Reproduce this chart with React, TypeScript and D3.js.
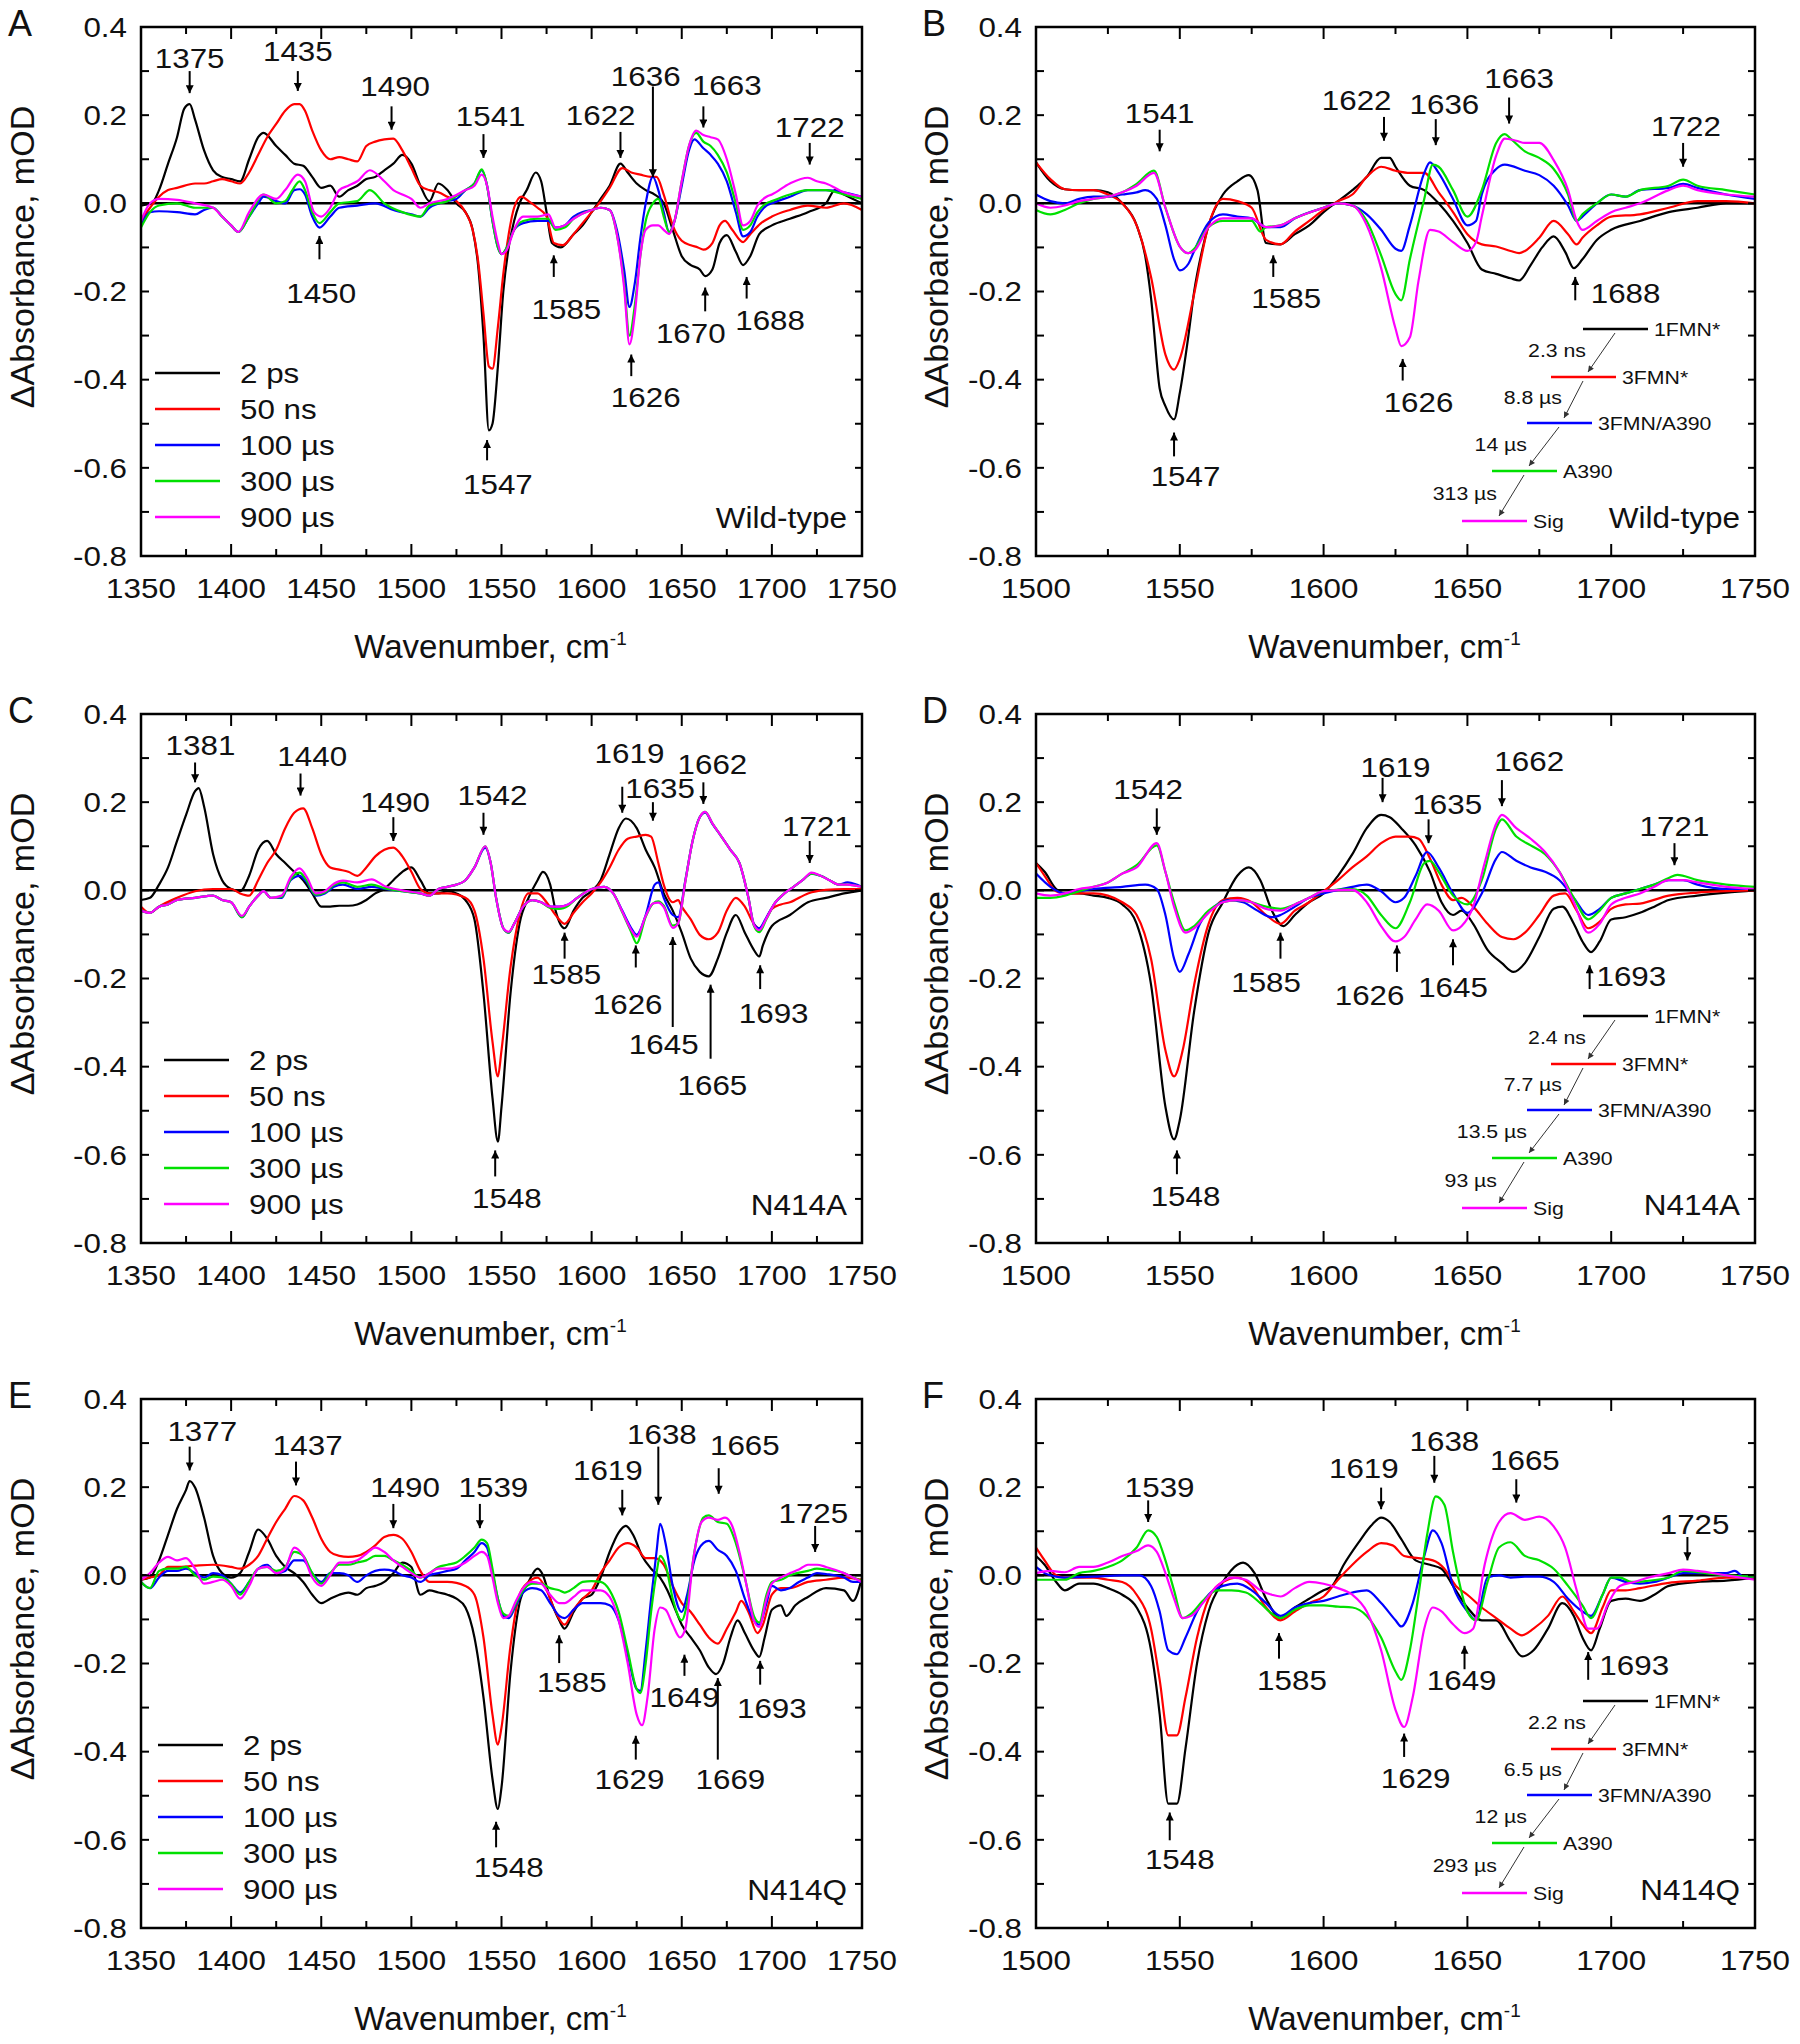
import * as d3 from "d3";

type Pt = [number, number];
// [label, arrow wavenumber, arrow base, arrow tip, label wavenumber, label value]
type Note = [string, number, number, number, number, number];

const COLORS = ["#000000", "#ff0000", "#0000ff", "#00e000", "#ff00ff"];
const TIME_LABELS = ["2 ps", "50 ns", "100 µs", "300 µs", "900 µs"];
const SPECIES = ["1FMN*", "3FMN*", "3FMN/A390", "A390", "Sig"];
const RATES_WT = ["2.3 ns", "8.8 µs", "14 µs", "313 µs"];
const RATES_N414A = ["2.4 ns", "7.7 µs", "13.5 µs", "93 µs"];
const RATES_N414Q = ["2.2 ns", "6.5 µs", "12 µs", "293 µs"];

const Y_TICKS = [0.4, 0.3, 0.2, 0.1, 0, -0.1, -0.2, -0.3, -0.4, -0.5, -0.6, -0.7, -0.8];
const Y_LABELS = [0.4, 0.2, 0, -0.2, -0.4, -0.6, -0.8];
const X_TICKS_WIDE = [1350, 1375, 1400, 1425, 1450, 1475, 1500, 1525, 1550, 1575, 1600, 1625, 1650, 1675, 1700, 1725, 1750];
const X_TICKS_NARROW = [1500, 1525, 1550, 1575, 1600, 1625, 1650, 1675, 1700, 1725, 1750];

// ---------- panel A : wild-type, time slices ----------
const aBlack: Pt[] = [[1350,-0.005],[1356,0.0],[1360,0.03],[1365,0.09],[1370,0.15],[1374,0.215],[1377,0.225],[1380,0.19],[1385,0.12],[1390,0.075],[1395,0.06],[1400,0.055],[1405,0.05],[1410,0.1],[1415,0.15],[1418,0.16],[1425,0.13],[1430,0.11],[1435,0.09],[1440,0.085],[1445,0.06],[1450,0.035],[1455,0.04],[1460,0.015],[1465,0.03],[1470,0.04],[1475,0.055],[1480,0.06],[1485,0.075],[1490,0.09],[1495,0.11],[1500,0.09],[1505,0.04],[1510,0.005],[1515,0.045],[1520,0.03],[1525,0.0],[1530,-0.02],[1534,-0.06],[1537,-0.14],[1540,-0.3],[1543,-0.515],[1545,-0.5],[1548,-0.37],[1551,-0.2],[1554,-0.1],[1557,-0.04],[1560,0.0],[1564,0.03],[1569,0.07],[1572,0.05],[1575,-0.02],[1578,-0.09],[1583,-0.1],[1590,-0.07],[1595,-0.05],[1600,-0.02],[1605,0.01],[1610,0.04],[1616,0.09],[1620,0.07],[1625,0.045],[1630,0.03],[1635,0.02],[1640,0.0],[1645,-0.06],[1650,-0.12],[1655,-0.14],[1660,-0.15],[1663,-0.165],[1667,-0.15],[1671,-0.09],[1675,-0.072],[1680,-0.11],[1684,-0.14],[1688,-0.12],[1693,-0.07],[1700,-0.05],[1710,-0.035],[1720,-0.02],[1730,0.0],[1735,0.03],[1740,0.02],[1745,0.01],[1750,0.0]];
const aRed: Pt[] = [[1350,-0.04],[1355,-0.01],[1360,0.015],[1365,0.03],[1370,0.035],[1380,0.045],[1385,0.045],[1390,0.05],[1395,0.055],[1400,0.05],[1405,0.045],[1410,0.07],[1415,0.11],[1420,0.15],[1425,0.18],[1430,0.21],[1435,0.225],[1438,0.225],[1441,0.21],[1445,0.165],[1450,0.12],[1455,0.1],[1460,0.105],[1465,0.1],[1470,0.095],[1475,0.13],[1480,0.14],[1485,0.145],[1490,0.147],[1495,0.12],[1500,0.08],[1505,0.04],[1510,0.03],[1515,0.025],[1520,0.015],[1525,0.005],[1530,-0.02],[1534,-0.06],[1537,-0.13],[1540,-0.25],[1543,-0.37],[1545,-0.375],[1548,-0.28],[1551,-0.16],[1554,-0.07],[1557,-0.01],[1561,0.015],[1565,0.005],[1570,-0.01],[1575,-0.03],[1579,-0.09],[1584,-0.095],[1590,-0.07],[1595,-0.045],[1600,-0.02],[1605,0.005],[1610,0.035],[1617,0.08],[1622,0.07],[1627,0.065],[1633,0.06],[1636,0.06],[1640,0.02],[1645,-0.05],[1650,-0.085],[1655,-0.095],[1659,-0.1],[1662,-0.105],[1667,-0.09],[1671,-0.05],[1674,-0.04],[1678,-0.06],[1684,-0.088],[1688,-0.07],[1694,-0.045],[1700,-0.03],[1710,-0.015],[1720,-0.005],[1730,-0.01],[1740,0.0],[1750,-0.015]];
const aBlue: Pt[] = [[1350,-0.05],[1355,-0.02],[1360,-0.018],[1370,-0.02],[1380,-0.025],[1385,-0.015],[1390,-0.01],[1395,-0.03],[1400,-0.05],[1404,-0.065],[1410,-0.03],[1415,0.0],[1418,0.015],[1425,0.005],[1430,0.0],[1435,0.03],[1438,0.032],[1441,0.02],[1445,-0.03],[1449,-0.055],[1455,-0.03],[1460,-0.01],[1470,-0.005],[1480,0.0],[1490,-0.015],[1500,-0.025],[1505,-0.03],[1510,-0.01],[1520,0.005],[1525,0.01],[1530,0.03],[1535,0.045],[1539,0.075],[1542,0.04],[1545,-0.04],[1548,-0.1],[1550,-0.115],[1553,-0.1],[1557,-0.06],[1562,-0.045],[1570,-0.04],[1576,-0.04],[1580,-0.055],[1585,-0.05],[1590,-0.03],[1595,-0.02],[1600,-0.015],[1605,-0.01],[1610,-0.015],[1614,-0.06],[1618,-0.15],[1621,-0.235],[1624,-0.18],[1627,-0.08],[1630,0.0],[1634,0.06],[1637,0.03],[1640,-0.02],[1643,-0.065],[1646,-0.04],[1650,0.04],[1654,0.12],[1657,0.145],[1662,0.125],[1666,0.11],[1670,0.09],[1675,0.05],[1680,-0.02],[1684,-0.075],[1688,-0.065],[1692,-0.03],[1697,-0.005],[1700,0.0],[1710,0.015],[1720,0.03],[1730,0.03],[1740,0.025],[1750,0.015]];
const aGreen: Pt[] = [[1350,-0.055],[1355,-0.02],[1360,-0.005],[1370,0.0],[1380,-0.01],[1390,-0.01],[1395,-0.03],[1400,-0.05],[1404,-0.065],[1410,-0.03],[1418,0.02],[1425,0.0],[1430,0.005],[1434,0.03],[1438,0.05],[1441,0.03],[1445,-0.02],[1449,-0.045],[1455,-0.02],[1460,0.0],[1470,0.005],[1477,0.03],[1485,0.0],[1495,-0.02],[1505,-0.03],[1510,-0.005],[1520,0.005],[1530,0.03],[1535,0.045],[1539,0.077],[1542,0.04],[1545,-0.04],[1548,-0.1],[1550,-0.115],[1553,-0.1],[1557,-0.06],[1562,-0.04],[1570,-0.035],[1576,-0.035],[1580,-0.06],[1585,-0.055],[1590,-0.035],[1600,-0.015],[1605,-0.01],[1610,-0.015],[1614,-0.07],[1618,-0.18],[1621,-0.3],[1624,-0.23],[1627,-0.12],[1630,-0.04],[1634,0.0],[1637,0.01],[1640,-0.03],[1643,-0.065],[1646,-0.04],[1650,0.05],[1654,0.13],[1658,0.16],[1662,0.14],[1666,0.13],[1670,0.11],[1675,0.07],[1680,0.0],[1684,-0.06],[1688,-0.05],[1692,-0.02],[1697,0.0],[1700,0.005],[1710,0.02],[1720,0.03],[1730,0.03],[1740,0.02],[1750,0.01]];
const aMagenta: Pt[] = [[1350,-0.04],[1355,0.0],[1360,0.01],[1370,0.008],[1380,0.0],[1390,-0.01],[1395,-0.03],[1400,-0.05],[1404,-0.065],[1410,-0.02],[1418,0.02],[1425,0.01],[1430,0.03],[1437,0.065],[1441,0.05],[1446,-0.02],[1450,-0.03],[1455,-0.01],[1460,0.03],[1465,0.04],[1470,0.05],[1477,0.075],[1485,0.05],[1490,0.03],[1495,0.02],[1500,0.01],[1505,-0.01],[1510,0.0],[1520,0.01],[1530,0.03],[1535,0.04],[1539,0.065],[1542,0.04],[1545,-0.03],[1548,-0.09],[1550,-0.115],[1553,-0.105],[1557,-0.06],[1562,-0.03],[1570,-0.03],[1576,-0.025],[1580,-0.055],[1585,-0.05],[1590,-0.035],[1600,-0.015],[1605,-0.01],[1610,-0.015],[1614,-0.07],[1618,-0.19],[1621,-0.32],[1624,-0.25],[1627,-0.12],[1630,-0.06],[1634,-0.05],[1637,-0.05],[1640,-0.06],[1643,-0.07],[1646,-0.04],[1650,0.05],[1654,0.13],[1658,0.165],[1662,0.155],[1666,0.15],[1670,0.145],[1675,0.1],[1680,0.02],[1684,-0.05],[1688,-0.04],[1692,-0.005],[1697,0.015],[1700,0.02],[1710,0.045],[1720,0.058],[1725,0.05],[1730,0.045],[1740,0.025],[1750,0.015]];

// ---------- panel B : wild-type, species spectra ----------
const bBlack: Pt[] = [[1500,0.093],[1505,0.05],[1510,0.032],[1515,0.03],[1520,0.03],[1525,0.025],[1530,0.0],[1535,-0.05],[1538,-0.12],[1540,-0.215],[1543,-0.42],[1545,-0.46],[1548,-0.49],[1550,-0.43],[1553,-0.3],[1555,-0.2],[1558,-0.1],[1560,-0.05],[1565,0.02],[1570,0.05],[1574,0.064],[1577,0.03],[1580,-0.09],[1585,-0.093],[1590,-0.07],[1595,-0.05],[1600,-0.02],[1605,0.005],[1610,0.03],[1615,0.06],[1620,0.103],[1623,0.103],[1625,0.083],[1630,0.04],[1635,0.03],[1640,0.0],[1645,-0.04],[1650,-0.09],[1655,-0.15],[1660,-0.16],[1665,-0.17],[1668,-0.175],[1672,-0.14],[1676,-0.1],[1680,-0.075],[1684,-0.11],[1687,-0.147],[1690,-0.127],[1695,-0.083],[1700,-0.06],[1710,-0.04],[1720,-0.02],[1730,-0.01],[1740,0.0],[1750,0.0]];
const bRed: Pt[] = [[1500,0.093],[1505,0.055],[1510,0.032],[1515,0.03],[1520,0.03],[1525,0.02],[1530,0.0],[1535,-0.05],[1540,-0.167],[1545,-0.343],[1548,-0.377],[1550,-0.353],[1555,-0.205],[1560,-0.05],[1565,0.01],[1570,0.005],[1575,-0.01],[1580,-0.083],[1585,-0.093],[1590,-0.064],[1595,-0.04],[1600,-0.015],[1605,0.005],[1610,0.02],[1615,0.06],[1620,0.083],[1625,0.074],[1630,0.069],[1635,0.069],[1640,0.025],[1645,-0.02],[1650,-0.07],[1655,-0.093],[1660,-0.098],[1665,-0.108],[1668,-0.113],[1670,-0.108],[1675,-0.078],[1680,-0.04],[1685,-0.07],[1688,-0.093],[1690,-0.078],[1695,-0.05],[1700,-0.03],[1710,-0.025],[1720,-0.01],[1730,0.005],[1740,0.005],[1750,0.0]];
const bBlue: Pt[] = [[1500,0.02],[1505,0.005],[1510,0.0],[1515,0.01],[1520,0.015],[1525,0.015],[1530,0.02],[1535,0.025],[1538,0.03],[1542,0.01],[1545,-0.05],[1548,-0.127],[1550,-0.152],[1553,-0.137],[1555,-0.108],[1560,-0.044],[1565,-0.025],[1570,-0.03],[1575,-0.034],[1580,-0.054],[1585,-0.054],[1590,-0.034],[1600,-0.01],[1605,0.0],[1610,-0.005],[1615,-0.025],[1620,-0.06],[1625,-0.103],[1627,-0.108],[1630,-0.05],[1635,0.069],[1637,0.093],[1640,0.069],[1645,0.01],[1650,-0.05],[1653,-0.04],[1655,0.02],[1660,0.078],[1663,0.088],[1670,0.074],[1675,0.064],[1680,0.04],[1685,-0.005],[1688,-0.04],[1690,-0.03],[1695,0.0],[1700,0.02],[1705,0.015],[1710,0.03],[1720,0.035],[1725,0.044],[1730,0.035],[1740,0.02],[1750,0.01]];
const bGreen: Pt[] = [[1500,-0.015],[1505,-0.025],[1510,-0.015],[1515,0.0],[1520,0.01],[1525,0.015],[1530,0.025],[1535,0.044],[1541,0.074],[1545,-0.01],[1550,-0.098],[1553,-0.113],[1555,-0.103],[1560,-0.054],[1565,-0.04],[1570,-0.04],[1575,-0.04],[1578,-0.064],[1580,-0.054],[1585,-0.05],[1590,-0.034],[1600,-0.01],[1605,0.0],[1610,-0.005],[1615,-0.04],[1620,-0.118],[1625,-0.206],[1627,-0.22],[1630,-0.127],[1635,0.01],[1638,0.088],[1640,0.083],[1645,0.03],[1650,-0.03],[1655,0.03],[1660,0.137],[1663,0.157],[1665,0.147],[1670,0.118],[1675,0.103],[1680,0.078],[1685,0.02],[1688,-0.04],[1690,-0.025],[1695,0.0],[1700,0.02],[1705,0.015],[1710,0.03],[1720,0.04],[1725,0.054],[1730,0.04],[1740,0.03],[1750,0.02]];
const bMagenta: Pt[] = [[1500,0.0],[1505,-0.01],[1510,-0.005],[1515,0.005],[1520,0.01],[1525,0.015],[1530,0.025],[1535,0.04],[1541,0.069],[1545,-0.01],[1550,-0.098],[1553,-0.113],[1555,-0.108],[1560,-0.054],[1565,-0.034],[1570,-0.034],[1575,-0.034],[1580,-0.054],[1585,-0.05],[1590,-0.034],[1600,-0.01],[1605,0.0],[1610,-0.005],[1615,-0.05],[1620,-0.147],[1625,-0.284],[1627,-0.324],[1630,-0.304],[1633,-0.176],[1637,-0.06],[1640,-0.064],[1645,-0.088],[1650,-0.108],[1653,-0.088],[1655,-0.03],[1660,0.108],[1663,0.147],[1667,0.142],[1670,0.137],[1675,0.137],[1680,0.098],[1685,0.03],[1688,-0.04],[1690,-0.06],[1695,-0.04],[1700,-0.02],[1705,-0.01],[1710,0.0],[1720,0.03],[1725,0.04],[1730,0.03],[1740,0.02],[1750,0.015]];

// ---------- panel C : N414A, time slices ----------
const cBlack: Pt[] = [[1350,-0.022],[1355,-0.017],[1360,0.013],[1365,0.052],[1370,0.112],[1375,0.171],[1380,0.225],[1382,0.232],[1385,0.19],[1390,0.082],[1395,0.023],[1400,0.003],[1405,-0.002],[1410,0.033],[1415,0.092],[1420,0.112],[1425,0.082],[1430,0.062],[1435,0.042],[1440,0.023],[1445,-0.007],[1450,-0.037],[1455,-0.037],[1460,-0.035],[1465,-0.035],[1470,-0.032],[1475,-0.022],[1480,-0.007],[1485,0.003],[1490,0.023],[1495,0.042],[1500,0.052],[1505,0.023],[1510,-0.007],[1515,-0.007],[1520,-0.002],[1525,-0.007],[1530,-0.022],[1535,-0.066],[1540,-0.234],[1545,-0.471],[1548,-0.57],[1550,-0.491],[1555,-0.234],[1560,-0.076],[1565,-0.017],[1570,0.023],[1573,0.042],[1577,0.013],[1580,-0.046],[1585,-0.086],[1590,-0.046],[1595,-0.017],[1600,-0.002],[1605,0.023],[1610,0.082],[1615,0.141],[1619,0.163],[1625,0.141],[1630,0.092],[1635,0.052],[1640,-0.007],[1645,-0.046],[1650,-0.096],[1655,-0.155],[1660,-0.185],[1665,-0.195],[1670,-0.155],[1675,-0.096],[1680,-0.056],[1685,-0.096],[1690,-0.135],[1693,-0.15],[1695,-0.125],[1700,-0.081],[1710,-0.056],[1720,-0.027],[1730,-0.017],[1740,-0.007],[1750,0.0]];
const cRed: Pt[] = [[1350,-0.037],[1355,-0.051],[1360,-0.037],[1370,-0.017],[1380,-0.002],[1390,0.003],[1400,0.003],[1405,-0.007],[1410,-0.012],[1415,0.023],[1420,0.062],[1425,0.092],[1430,0.141],[1435,0.176],[1440,0.186],[1445,0.141],[1450,0.082],[1455,0.052],[1460,0.047],[1465,0.042],[1470,0.033],[1475,0.052],[1480,0.077],[1485,0.092],[1490,0.097],[1495,0.077],[1500,0.042],[1505,0.003],[1510,-0.007],[1520,-0.007],[1530,-0.017],[1535,-0.046],[1540,-0.155],[1545,-0.343],[1548,-0.422],[1550,-0.363],[1555,-0.175],[1560,-0.056],[1565,-0.007],[1570,-0.007],[1575,-0.027],[1580,-0.056],[1585,-0.076],[1590,-0.051],[1595,-0.027],[1600,-0.007],[1605,0.018],[1610,0.052],[1615,0.092],[1620,0.117],[1625,0.122],[1630,0.126],[1633,0.122],[1637,0.062],[1640,0.013],[1645,-0.027],[1648,-0.022],[1650,-0.037],[1655,-0.066],[1660,-0.101],[1665,-0.111],[1670,-0.096],[1675,-0.046],[1680,-0.017],[1685,-0.037],[1690,-0.076],[1693,-0.086],[1700,-0.042],[1705,-0.032],[1710,-0.027],[1720,-0.007],[1730,0.001],[1740,0.003],[1750,0.003]];
const cBlue: Pt[] = [[1350,-0.046],[1355,-0.051],[1360,-0.037],[1365,-0.032],[1370,-0.022],[1380,-0.017],[1390,-0.012],[1395,-0.022],[1400,-0.027],[1406,-0.061],[1410,-0.037],[1415,-0.012],[1418,-0.002],[1422,-0.017],[1428,-0.017],[1433,0.023],[1438,0.033],[1442,0.018],[1447,-0.012],[1452,-0.007],[1457,0.008],[1462,0.013],[1470,0.003],[1478,0.008],[1485,0.003],[1495,-0.002],[1505,-0.007],[1510,-0.012],[1515,0.003],[1520,0.008],[1525,0.013],[1530,0.023],[1535,0.052],[1541,0.097],[1544,0.062],[1547,-0.017],[1551,-0.086],[1554,-0.096],[1557,-0.076],[1562,-0.037],[1567,-0.022],[1572,-0.027],[1577,-0.037],[1582,-0.037],[1587,-0.032],[1592,-0.017],[1600,0.003],[1607,0.008],[1612,-0.007],[1617,-0.046],[1622,-0.086],[1625,-0.101],[1630,-0.056],[1635,0.013],[1637,0.018],[1640,-0.017],[1645,-0.056],[1648,-0.061],[1652,0.023],[1656,0.112],[1660,0.166],[1663,0.176],[1667,0.151],[1672,0.122],[1677,0.092],[1682,0.062],[1687,-0.017],[1690,-0.076],[1693,-0.086],[1697,-0.061],[1702,-0.027],[1707,-0.007],[1712,0.008],[1717,0.023],[1722,0.038],[1727,0.033],[1732,0.023],[1737,0.013],[1742,0.018],[1747,0.013],[1750,0.008]];
const cGreen: Pt[] = [[1350,-0.046],[1355,-0.051],[1360,-0.037],[1365,-0.032],[1370,-0.022],[1380,-0.017],[1390,-0.012],[1395,-0.022],[1400,-0.027],[1406,-0.061],[1410,-0.037],[1415,-0.012],[1418,-0.002],[1422,-0.017],[1428,-0.015],[1433,0.025],[1438,0.04],[1442,0.022],[1447,-0.01],[1452,-0.005],[1457,0.012],[1462,0.018],[1470,0.008],[1478,0.013],[1485,0.005],[1495,-0.002],[1505,-0.007],[1510,-0.012],[1515,0.003],[1520,0.008],[1525,0.013],[1530,0.023],[1535,0.052],[1541,0.1],[1544,0.062],[1547,-0.017],[1551,-0.086],[1554,-0.096],[1557,-0.076],[1562,-0.037],[1567,-0.022],[1572,-0.027],[1577,-0.04],[1582,-0.042],[1587,-0.035],[1592,-0.017],[1600,0.003],[1607,0.008],[1612,-0.007],[1617,-0.05],[1622,-0.095],[1625,-0.12],[1630,-0.06],[1634,-0.03],[1637,-0.025],[1640,-0.035],[1645,-0.08],[1648,-0.075],[1652,0.02],[1656,0.112],[1660,0.166],[1663,0.178],[1667,0.152],[1672,0.122],[1677,0.092],[1682,0.062],[1687,-0.017],[1690,-0.08],[1693,-0.095],[1697,-0.065],[1702,-0.027],[1707,-0.007],[1712,0.008],[1717,0.023],[1722,0.038],[1727,0.033],[1732,0.023],[1737,0.013],[1742,0.013],[1747,0.01],[1750,0.008]];
const cMagenta: Pt[] = [[1350,-0.046],[1355,-0.051],[1360,-0.037],[1365,-0.032],[1370,-0.022],[1380,-0.017],[1390,-0.012],[1395,-0.022],[1400,-0.027],[1406,-0.058],[1410,-0.037],[1415,-0.012],[1418,-0.002],[1422,-0.017],[1428,-0.012],[1433,0.03],[1438,0.05],[1442,0.03],[1447,-0.007],[1452,-0.002],[1457,0.015],[1462,0.022],[1470,0.018],[1478,0.025],[1485,0.01],[1495,0.0],[1505,-0.007],[1510,-0.012],[1515,0.003],[1520,0.008],[1525,0.013],[1530,0.023],[1535,0.052],[1541,0.1],[1544,0.062],[1547,-0.017],[1551,-0.086],[1554,-0.094],[1557,-0.076],[1562,-0.037],[1567,-0.022],[1572,-0.027],[1577,-0.037],[1582,-0.037],[1587,-0.032],[1592,-0.017],[1600,0.003],[1607,0.008],[1612,-0.007],[1617,-0.048],[1622,-0.09],[1625,-0.105],[1630,-0.058],[1634,-0.03],[1637,-0.028],[1640,-0.038],[1645,-0.085],[1648,-0.075],[1652,0.02],[1656,0.112],[1660,0.166],[1663,0.178],[1667,0.152],[1672,0.122],[1677,0.092],[1682,0.062],[1687,-0.017],[1690,-0.078],[1693,-0.09],[1697,-0.063],[1702,-0.027],[1707,-0.007],[1712,0.008],[1717,0.023],[1722,0.04],[1727,0.033],[1732,0.023],[1737,0.013],[1742,0.013],[1747,0.01],[1750,0.008]];

// ---------- panel D : N414A, species spectra ----------
const dBlack: Pt[] = [[1500,0.062],[1503,0.042],[1507,0.003],[1510,-0.007],[1515,-0.007],[1520,-0.012],[1525,-0.017],[1530,-0.032],[1535,-0.076],[1540,-0.214],[1545,-0.491],[1548,-0.565],[1550,-0.521],[1555,-0.274],[1560,-0.096],[1565,-0.027],[1570,0.033],[1574,0.052],[1578,0.023],[1582,-0.046],[1586,-0.081],[1590,-0.056],[1595,-0.027],[1600,-0.007],[1605,0.033],[1610,0.082],[1615,0.141],[1620,0.171],[1623,0.166],[1627,0.141],[1632,0.102],[1637,0.042],[1641,-0.027],[1645,-0.056],[1648,-0.046],[1652,-0.076],[1657,-0.135],[1662,-0.165],[1666,-0.185],[1670,-0.165],[1675,-0.106],[1680,-0.042],[1683,-0.037],[1687,-0.076],[1690,-0.116],[1693,-0.14],[1696,-0.116],[1700,-0.066],[1705,-0.061],[1710,-0.051],[1715,-0.037],[1720,-0.022],[1730,-0.012],[1740,-0.005],[1750,0.0]];
const dRed: Pt[] = [[1500,0.062],[1503,0.033],[1507,-0.002],[1510,-0.007],[1520,-0.007],[1525,-0.012],[1530,-0.027],[1535,-0.056],[1540,-0.155],[1545,-0.363],[1548,-0.422],[1551,-0.363],[1555,-0.214],[1560,-0.076],[1565,-0.022],[1570,-0.017],[1575,-0.027],[1580,-0.056],[1585,-0.076],[1590,-0.046],[1595,-0.027],[1600,-0.002],[1605,0.023],[1610,0.052],[1615,0.077],[1620,0.107],[1625,0.122],[1630,0.122],[1633,0.117],[1637,0.072],[1641,0.013],[1645,-0.022],[1648,-0.017],[1652,-0.037],[1657,-0.076],[1662,-0.106],[1666,-0.111],[1670,-0.096],[1675,-0.056],[1680,-0.012],[1684,-0.007],[1688,-0.046],[1692,-0.086],[1696,-0.071],[1700,-0.042],[1705,-0.032],[1710,-0.03],[1720,-0.012],[1730,-0.005],[1740,-0.002],[1750,0.0]];
const dBlue: Pt[] = [[1500,0.038],[1505,0.008],[1510,-0.007],[1515,-0.002],[1520,0.003],[1530,0.008],[1538,0.013],[1542,0.003],[1545,-0.056],[1548,-0.155],[1550,-0.185],[1553,-0.145],[1557,-0.076],[1562,-0.037],[1567,-0.022],[1572,-0.027],[1577,-0.046],[1582,-0.061],[1585,-0.056],[1590,-0.037],[1595,-0.017],[1600,-0.007],[1605,0.001],[1610,0.008],[1615,0.013],[1620,-0.002],[1625,-0.027],[1628,-0.017],[1632,0.033],[1636,0.087],[1640,0.052],[1645,-0.007],[1650,-0.051],[1655,-0.007],[1660,0.072],[1662,0.087],[1667,0.067],[1672,0.052],[1677,0.042],[1682,0.023],[1687,-0.017],[1692,-0.056],[1696,-0.042],[1700,-0.017],[1705,-0.007],[1710,0.003],[1715,0.013],[1720,0.023],[1725,0.023],[1730,0.013],[1740,0.003],[1750,0.003]];
const dGreen: Pt[] = [[1500,-0.017],[1505,-0.017],[1510,-0.012],[1515,-0.002],[1520,0.008],[1525,0.018],[1530,0.038],[1535,0.057],[1542,0.102],[1545,0.042],[1548,-0.027],[1552,-0.091],[1555,-0.081],[1560,-0.046],[1565,-0.027],[1570,-0.022],[1575,-0.027],[1580,-0.037],[1585,-0.042],[1590,-0.032],[1595,-0.017],[1600,-0.002],[1610,0.003],[1615,-0.012],[1620,-0.056],[1625,-0.086],[1630,-0.027],[1635,0.062],[1637,0.067],[1640,0.042],[1645,-0.012],[1650,-0.032],[1655,0.023],[1660,0.141],[1662,0.161],[1667,0.122],[1672,0.102],[1677,0.082],[1682,0.042],[1687,-0.017],[1692,-0.066],[1696,-0.046],[1700,-0.017],[1705,-0.007],[1710,0.003],[1715,0.013],[1720,0.028],[1723,0.035],[1730,0.023],[1740,0.013],[1750,0.008]];
const dMagenta: Pt[] = [[1500,-0.007],[1505,-0.012],[1510,-0.007],[1515,0.003],[1520,0.008],[1525,0.018],[1530,0.038],[1535,0.052],[1542,0.107],[1545,0.042],[1548,-0.037],[1552,-0.096],[1555,-0.086],[1560,-0.051],[1565,-0.027],[1570,-0.022],[1575,-0.027],[1580,-0.042],[1585,-0.046],[1590,-0.032],[1595,-0.017],[1600,-0.002],[1610,0.001],[1615,-0.027],[1620,-0.081],[1625,-0.116],[1628,-0.106],[1632,-0.066],[1636,-0.032],[1640,-0.046],[1645,-0.091],[1648,-0.081],[1652,-0.037],[1656,0.062],[1660,0.151],[1662,0.171],[1667,0.141],[1672,0.117],[1677,0.087],[1682,0.042],[1687,-0.027],[1692,-0.096],[1696,-0.076],[1700,-0.032],[1705,-0.017],[1710,-0.007],[1715,0.008],[1720,0.023],[1725,0.023],[1730,0.018],[1740,0.008],[1750,0.003]];

// ---------- panel E : N414Q, time slices ----------
const eBlack: Pt[] = [[1350,-0.01],[1355,-0.005],[1360,0.034],[1365,0.092],[1370,0.151],[1375,0.194],[1377,0.214],[1380,0.199],[1385,0.131],[1390,0.044],[1395,0.005],[1400,-0.005],[1405,0.005],[1410,0.053],[1415,0.104],[1420,0.083],[1425,0.044],[1430,0.019],[1435,0.005],[1440,-0.015],[1445,-0.044],[1450,-0.063],[1455,-0.053],[1460,-0.044],[1465,-0.039],[1470,-0.044],[1475,-0.029],[1480,-0.024],[1485,-0.015],[1490,0.005],[1495,0.029],[1500,0.019],[1505,-0.044],[1510,-0.034],[1515,-0.039],[1520,-0.044],[1525,-0.053],[1530,-0.073],[1535,-0.141],[1540,-0.277],[1545,-0.462],[1548,-0.53],[1550,-0.481],[1555,-0.219],[1560,-0.063],[1565,-0.015],[1570,0.015],[1573,0.0],[1577,-0.053],[1582,-0.102],[1585,-0.121],[1590,-0.083],[1595,-0.053],[1600,-0.044],[1605,-0.005],[1610,0.053],[1615,0.097],[1619,0.112],[1623,0.092],[1628,0.044],[1633,0.015],[1638,-0.005],[1642,-0.034],[1646,-0.073],[1650,-0.112],[1655,-0.141],[1660,-0.17],[1665,-0.209],[1669,-0.224],[1673,-0.199],[1677,-0.141],[1681,-0.102],[1685,-0.131],[1690,-0.17],[1693,-0.185],[1696,-0.141],[1700,-0.078],[1705,-0.068],[1708,-0.092],[1713,-0.068],[1720,-0.049],[1730,-0.029],[1740,-0.034],[1745,-0.058],[1750,-0.005]];
const eRed: Pt[] = [[1350,-0.01],[1355,-0.005],[1360,0.0],[1365,0.019],[1370,0.019],[1380,0.022],[1390,0.024],[1400,0.019],[1405,0.015],[1410,0.024],[1415,0.044],[1420,0.083],[1425,0.121],[1430,0.151],[1435,0.18],[1440,0.17],[1445,0.131],[1450,0.083],[1455,0.053],[1460,0.044],[1465,0.042],[1470,0.044],[1475,0.053],[1480,0.068],[1485,0.087],[1490,0.092],[1495,0.083],[1500,0.053],[1505,0.01],[1510,-0.015],[1520,-0.015],[1530,-0.024],[1535,-0.044],[1540,-0.141],[1545,-0.316],[1548,-0.384],[1550,-0.345],[1555,-0.16],[1560,-0.044],[1565,-0.015],[1570,-0.005],[1575,-0.034],[1580,-0.083],[1585,-0.112],[1590,-0.078],[1595,-0.053],[1600,-0.034],[1605,0.005],[1610,0.034],[1615,0.063],[1620,0.073],[1625,0.063],[1630,0.039],[1635,0.039],[1640,0.024],[1645,-0.024],[1650,-0.063],[1655,-0.083],[1660,-0.112],[1665,-0.141],[1670,-0.155],[1675,-0.121],[1680,-0.083],[1683,-0.058],[1687,-0.083],[1692,-0.131],[1695,-0.112],[1700,-0.044],[1705,-0.029],[1710,-0.029],[1720,-0.015],[1730,-0.01],[1740,-0.005],[1750,-0.01]];
const eBlue: Pt[] = [[1350,-0.015],[1355,-0.029],[1360,-0.005],[1365,0.01],[1370,0.01],[1375,0.015],[1380,0.005],[1385,-0.005],[1390,0.005],[1395,0.0],[1400,-0.019],[1405,-0.039],[1410,-0.015],[1415,0.015],[1420,0.024],[1425,0.005],[1430,0.01],[1435,0.034],[1440,0.034],[1445,0.005],[1450,-0.015],[1455,0.005],[1460,0.005],[1465,0.0],[1470,-0.015],[1475,0.0],[1480,0.01],[1485,0.013],[1490,0.01],[1495,0.0],[1500,-0.005],[1505,-0.015],[1510,0.0],[1515,0.005],[1520,0.01],[1525,0.015],[1530,0.034],[1535,0.053],[1539,0.073],[1542,0.063],[1545,0.005],[1548,-0.053],[1551,-0.092],[1554,-0.097],[1558,-0.068],[1562,-0.039],[1567,-0.029],[1572,-0.034],[1577,-0.063],[1582,-0.092],[1585,-0.097],[1590,-0.078],[1595,-0.063],[1600,-0.063],[1605,-0.063],[1610,-0.068],[1615,-0.102],[1620,-0.18],[1625,-0.258],[1627,-0.262],[1630,-0.17],[1633,-0.053],[1636,0.053],[1638,0.117],[1641,0.073],[1645,-0.024],[1650,-0.083],[1653,-0.044],[1657,0.034],[1662,0.073],[1665,0.078],[1670,0.058],[1675,0.044],[1680,0.01],[1685,-0.053],[1690,-0.102],[1693,-0.112],[1697,-0.063],[1700,-0.024],[1705,-0.034],[1710,-0.029],[1715,-0.015],[1720,-0.005],[1725,0.005],[1730,0.003],[1740,-0.005],[1745,-0.015],[1750,-0.015]];
const eGreen: Pt[] = [[1350,-0.015],[1355,-0.029],[1360,0.01],[1365,0.015],[1370,0.015],[1375,0.019],[1380,0.0],[1385,-0.01],[1390,-0.003],[1395,-0.005],[1400,-0.019],[1405,-0.044],[1410,-0.015],[1415,0.015],[1420,0.019],[1425,0.01],[1430,0.019],[1435,0.053],[1440,0.044],[1445,0.005],[1450,-0.019],[1455,0.005],[1460,0.024],[1465,0.024],[1470,0.029],[1475,0.034],[1480,0.044],[1485,0.044],[1490,0.034],[1495,0.024],[1500,0.01],[1505,-0.005],[1510,0.005],[1515,0.019],[1520,0.024],[1525,0.029],[1530,0.044],[1535,0.063],[1539,0.081],[1542,0.073],[1545,0.015],[1548,-0.053],[1551,-0.087],[1554,-0.092],[1558,-0.063],[1562,-0.034],[1567,-0.019],[1572,-0.019],[1577,-0.029],[1582,-0.034],[1585,-0.039],[1590,-0.029],[1595,-0.015],[1600,-0.013],[1605,-0.015],[1610,-0.034],[1615,-0.083],[1620,-0.17],[1625,-0.258],[1627,-0.267],[1630,-0.199],[1633,-0.083],[1636,0.005],[1638,0.044],[1641,0.024],[1645,-0.053],[1650,-0.102],[1653,-0.063],[1657,0.053],[1662,0.131],[1665,0.136],[1670,0.121],[1675,0.117],[1680,0.073],[1685,-0.005],[1690,-0.092],[1693,-0.107],[1697,-0.044],[1700,-0.015],[1705,-0.01],[1710,0.0],[1720,0.01],[1725,0.015],[1730,0.013],[1740,0.005],[1745,-0.005],[1750,-0.013]];
const eMagenta: Pt[] = [[1350,-0.01],[1355,0.005],[1360,0.029],[1365,0.042],[1370,0.034],[1375,0.039],[1380,0.015],[1385,-0.019],[1390,-0.015],[1395,-0.01],[1400,-0.024],[1405,-0.053],[1410,-0.024],[1415,0.015],[1420,0.019],[1425,0.005],[1430,0.015],[1435,0.063],[1440,0.044],[1445,-0.005],[1450,-0.024],[1455,0.0],[1460,0.029],[1465,0.029],[1470,0.034],[1475,0.049],[1480,0.063],[1485,0.053],[1490,0.034],[1495,0.019],[1500,0.005],[1505,-0.005],[1510,0.005],[1515,0.015],[1520,0.015],[1525,0.019],[1530,0.029],[1535,0.044],[1539,0.053],[1542,0.044],[1545,-0.005],[1548,-0.063],[1551,-0.097],[1554,-0.092],[1558,-0.058],[1562,-0.029],[1567,-0.015],[1572,-0.019],[1577,-0.044],[1582,-0.063],[1585,-0.063],[1590,-0.049],[1595,-0.034],[1600,-0.034],[1605,-0.034],[1610,-0.049],[1615,-0.102],[1620,-0.199],[1625,-0.316],[1628,-0.34],[1631,-0.277],[1635,-0.121],[1638,-0.073],[1641,-0.078],[1645,-0.112],[1649,-0.141],[1652,-0.121],[1656,0.024],[1661,0.121],[1665,0.131],[1670,0.126],[1674,0.131],[1678,0.112],[1682,0.053],[1686,-0.024],[1690,-0.102],[1693,-0.117],[1697,-0.053],[1700,-0.019],[1705,-0.005],[1710,0.005],[1715,0.013],[1720,0.024],[1725,0.024],[1730,0.019],[1740,0.005],[1745,-0.005],[1750,-0.015]];

// ---------- panel F : N414Q, species spectra ----------
const fBlack: Pt[] = [[1500,0.044],[1503,0.024],[1507,-0.015],[1510,-0.034],[1515,-0.019],[1520,-0.019],[1525,-0.029],[1530,-0.044],[1535,-0.073],[1540,-0.17],[1543,-0.315],[1546,-0.518],[1549,-0.518],[1552,-0.392],[1556,-0.199],[1560,-0.082],[1565,-0.015],[1570,0.024],[1572,0.029],[1576,0.005],[1580,-0.053],[1585,-0.097],[1590,-0.073],[1595,-0.053],[1600,-0.034],[1603,-0.024],[1607,0.024],[1612,0.073],[1617,0.116],[1620,0.131],[1623,0.121],[1627,0.082],[1632,0.034],[1637,0.024],[1641,0.015],[1645,-0.024],[1650,-0.073],[1655,-0.102],[1660,-0.102],[1665,-0.15],[1669,-0.184],[1673,-0.17],[1678,-0.121],[1683,-0.063],[1687,-0.092],[1690,-0.141],[1693,-0.17],[1696,-0.121],[1700,-0.058],[1705,-0.053],[1710,-0.058],[1715,-0.044],[1720,-0.024],[1730,-0.015],[1740,-0.012],[1750,-0.005]];
const fRed: Pt[] = [[1500,0.063],[1503,0.034],[1507,0.0],[1510,-0.005],[1520,-0.005],[1525,-0.01],[1530,-0.015],[1535,-0.044],[1540,-0.121],[1543,-0.237],[1546,-0.363],[1549,-0.363],[1552,-0.276],[1556,-0.141],[1560,-0.053],[1565,-0.015],[1570,-0.005],[1575,-0.024],[1580,-0.073],[1585,-0.102],[1590,-0.082],[1595,-0.063],[1600,-0.048],[1605,-0.01],[1610,0.024],[1615,0.053],[1620,0.073],[1624,0.068],[1628,0.044],[1633,0.039],[1638,0.034],[1642,0.015],[1646,-0.024],[1650,-0.044],[1655,-0.073],[1660,-0.097],[1665,-0.121],[1669,-0.136],[1673,-0.121],[1678,-0.092],[1683,-0.048],[1687,-0.082],[1690,-0.111],[1693,-0.131],[1697,-0.073],[1700,-0.034],[1705,-0.034],[1710,-0.029],[1720,-0.017],[1730,-0.012],[1740,-0.005],[1750,-0.005]];
const fBlue: Pt[] = [[1500,0.019],[1503,0.005],[1507,-0.003],[1510,-0.005],[1520,-0.003],[1530,0.0],[1536,0.0],[1540,-0.024],[1543,-0.082],[1546,-0.17],[1549,-0.179],[1552,-0.141],[1556,-0.082],[1560,-0.044],[1565,-0.024],[1570,-0.019],[1575,-0.034],[1580,-0.063],[1585,-0.092],[1590,-0.073],[1595,-0.063],[1600,-0.058],[1605,-0.048],[1610,-0.039],[1615,-0.034],[1620,-0.063],[1625,-0.102],[1627,-0.116],[1631,-0.063],[1635,0.044],[1638,0.102],[1641,0.073],[1645,-0.024],[1650,-0.082],[1653,-0.102],[1657,-0.005],[1661,0.0],[1665,-0.005],[1670,-0.003],[1675,-0.003],[1680,-0.015],[1685,-0.053],[1690,-0.082],[1693,-0.092],[1697,-0.044],[1700,-0.005],[1705,-0.015],[1710,-0.019],[1715,-0.015],[1720,-0.005],[1725,0.005],[1730,0.005],[1740,0.005],[1743,0.01],[1746,-0.003],[1750,-0.003]];
const fGreen: Pt[] = [[1500,-0.01],[1505,-0.01],[1510,-0.01],[1515,0.005],[1520,0.01],[1525,0.019],[1530,0.034],[1535,0.063],[1539,0.102],[1542,0.087],[1545,0.034],[1548,-0.034],[1551,-0.097],[1554,-0.087],[1558,-0.058],[1563,-0.034],[1568,-0.034],[1573,-0.039],[1578,-0.063],[1582,-0.087],[1585,-0.097],[1590,-0.078],[1595,-0.068],[1600,-0.068],[1605,-0.071],[1610,-0.073],[1615,-0.092],[1620,-0.141],[1625,-0.218],[1627,-0.237],[1630,-0.17],[1633,-0.044],[1636,0.092],[1639,0.179],[1642,0.16],[1645,0.053],[1650,-0.082],[1653,-0.102],[1657,-0.015],[1661,0.063],[1665,0.075],[1670,0.044],[1675,0.034],[1680,0.015],[1685,-0.024],[1690,-0.068],[1693,-0.097],[1697,-0.044],[1700,-0.005],[1703,-0.005],[1707,-0.015],[1712,-0.013],[1720,-0.005],[1725,0.01],[1730,0.007],[1740,0.0],[1750,-0.003]];
const fMagenta: Pt[] = [[1500,0.005],[1505,0.01],[1510,0.007],[1515,0.019],[1520,0.019],[1525,0.029],[1530,0.044],[1535,0.055],[1539,0.068],[1542,0.053],[1545,0.005],[1548,-0.053],[1551,-0.097],[1554,-0.092],[1558,-0.063],[1563,-0.024],[1568,-0.005],[1573,-0.01],[1578,-0.034],[1582,-0.044],[1585,-0.048],[1590,-0.029],[1595,-0.015],[1600,-0.019],[1605,-0.029],[1610,-0.044],[1615,-0.082],[1620,-0.17],[1625,-0.305],[1628,-0.344],[1631,-0.276],[1635,-0.121],[1638,-0.073],[1641,-0.082],[1645,-0.111],[1649,-0.131],[1652,-0.121],[1656,0.024],[1661,0.121],[1665,0.141],[1670,0.126],[1675,0.133],[1680,0.111],[1684,0.063],[1688,-0.034],[1692,-0.121],[1695,-0.121],[1699,-0.063],[1703,-0.024],[1708,-0.015],[1713,-0.005],[1720,0.005],[1725,0.013],[1730,0.01],[1740,0.0],[1750,-0.01]];

// ---------- peak annotations ----------
const notesA: Note[] = [
  ["1375",1377,0.3,0.25,1377,0.33],["1435",1437,0.3,0.255,1437,0.345],["1490",1489,0.22,0.167,1491,0.265],
  ["1541",1540,0.157,0.103,1544,0.198],["1622",1616,0.162,0.103,1605,0.2],["1636",1634,0.265,0.059,1630,0.289],
  ["1663",1662,0.22,0.172,1675,0.267],["1722",1721,0.137,0.088,1721,0.172],["1450",1449,-0.127,-0.074,1450,-0.204],
  ["1547",1542,-0.583,-0.537,1548,-0.637],["1585",1579,-0.167,-0.118,1586,-0.24],["1626",1622,-0.392,-0.343,1630,-0.44],
  ["1670",1663,-0.245,-0.191,1655,-0.294],["1688",1686,-0.216,-0.167,1699,-0.265],
];
const notesB: Note[] = [
  ["1541",1543,0.167,0.118,1543,0.204],["1622",1621,0.196,0.142,1611.5,0.233],["1636",1639,0.191,0.132,1642,0.225],
  ["1663",1664.5,0.24,0.181,1668,0.284],["1722",1725,0.137,0.083,1726,0.175],["1547",1548,-0.574,-0.52,1552,-0.618],
  ["1585",1582.5,-0.167,-0.118,1587,-0.216],["1626",1627.5,-0.402,-0.353,1633,-0.451],["1688",1687.5,-0.22,-0.167,1705,-0.204],
];
const notesC: Note[] = [
  ["1381",1380,0.29,0.245,1383,0.329],["1440",1438.5,0.265,0.215,1445,0.304],["1490",1490,0.166,0.112,1491,0.199],
  ["1542",1540,0.176,0.126,1545,0.215],["1619",1617,0.235,0.176,1621,0.311],["1635",1634,0.2,0.158,1638,0.232],
  ["1662",1662,0.245,0.196,1667,0.285],["1721",1721,0.112,0.062,1725,0.146],["1585",1585,-0.155,-0.096,1586,-0.19],
  ["1626",1624.5,-0.175,-0.125,1620,-0.259],["1645",1645,-0.31,-0.106,1640,-0.348],["1665",1666,-0.382,-0.214,1667,-0.442],
  ["1693",1693.5,-0.224,-0.17,1701,-0.279],["1548",1546.5,-0.649,-0.59,1553,-0.699],
];
const notesD: Note[] = [
  ["1542",1542,0.186,0.126,1539,0.23],["1619",1620.5,0.255,0.2,1625,0.28],["1635",1636.5,0.161,0.107,1643,0.196],
  ["1662",1662,0.25,0.191,1671.5,0.294],["1721",1722,0.107,0.057,1722,0.146],["1548",1549,-0.644,-0.59,1552,-0.694],
  ["1585",1585,-0.155,-0.096,1580,-0.209],["1626",1625.5,-0.185,-0.125,1616,-0.239],["1645",1645,-0.17,-0.111,1645,-0.219],
  ["1693",1692.5,-0.224,-0.17,1707,-0.195],
];
const notesE: Note[] = [
  ["1377",1377,0.292,0.238,1384,0.326],["1437",1436,0.258,0.204,1442.5,0.296],["1490",1490,0.162,0.107,1496.5,0.199],
  ["1539",1538,0.162,0.107,1545.5,0.199],["1619",1617,0.194,0.136,1609,0.238],["1638",1637,0.292,0.16,1639,0.321],
  ["1665",1670.5,0.243,0.185,1685,0.296],["1725",1724,0.112,0.053,1723,0.141],["1548",1547,-0.617,-0.559,1554,-0.661],
  ["1585",1582,-0.199,-0.136,1589,-0.243],["1629",1624.5,-0.418,-0.364,1621,-0.462],["1649",1651.5,-0.228,-0.18,1651.5,-0.277],
  ["1669",1670,-0.418,-0.233,1677,-0.462],["1693",1693.5,-0.248,-0.194,1700,-0.301],
];
const notesF: Note[] = [
  ["1539",1539,0.17,0.121,1543,0.199],["1619",1620,0.199,0.15,1614,0.242],["1638",1638.5,0.271,0.21,1642,0.305],
  ["1665",1667,0.218,0.165,1670,0.262],["1725",1726.5,0.087,0.034,1729,0.116],["1548",1546.5,-0.601,-0.538,1550,-0.644],
  ["1585",1584.5,-0.189,-0.131,1589,-0.237],["1629",1628,-0.412,-0.359,1632,-0.46],["1649",1649,-0.213,-0.16,1648,-0.237],
  ["1693",1692,-0.237,-0.174,1708,-0.203],
];

const panels = [
  { id: "A", col: 0, row: 0, domain: [1350, 1750], ticks: X_TICKS_WIDE, series: [aBlack, aRed, aBlue, aGreen, aMagenta], notes: notesA, tag: "Wild-type", rates: null, legendShift: 0 },
  { id: "B", col: 1, row: 0, domain: [1500, 1750], ticks: X_TICKS_NARROW, series: [bBlack, bRed, bBlue, bGreen, bMagenta], notes: notesB, tag: "Wild-type", rates: RATES_WT, legendShift: 0 },
  { id: "C", col: 0, row: 1, domain: [1350, 1750], ticks: X_TICKS_WIDE, series: [cBlack, cRed, cBlue, cGreen, cMagenta], notes: notesC, tag: "N414A", rates: null, legendShift: 9 },
  { id: "D", col: 1, row: 1, domain: [1500, 1750], ticks: X_TICKS_NARROW, series: [dBlack, dRed, dBlue, dGreen, dMagenta], notes: notesD, tag: "N414A", rates: RATES_N414A, legendShift: 0 },
  { id: "E", col: 0, row: 2, domain: [1350, 1750], ticks: X_TICKS_WIDE, series: [eBlack, eRed, eBlue, eGreen, eMagenta], notes: notesE, tag: "N414Q", rates: null, legendShift: 3 },
  { id: "F", col: 1, row: 2, domain: [1500, 1750], ticks: X_TICKS_NARROW, series: [fBlack, fRed, fBlue, fGreen, fMagenta], notes: notesF, tag: "N414Q", rates: RATES_N414Q, legendShift: 0 },
];

// layout
const LEFTS = [141, 1036];
const WIDTHS = [721, 719];
const TOPS = [27, 714, 1399];
const HEIGHT = 529;
const TITLE_X = [34, 948];
const FONT = "'Liberation Sans', Arial, Helvetica, sans-serif";
const SX = 1.12;

// scheme (species) rows, offsets from the plot's top-left corner
const SCHEME_X = [547, 515, 491, 456, 426];
const SCHEME_Y = [302, 350, 396, 444, 494];
const SCHEME_LEN = 65;

function Label({ x, y, size = 28, anchor = "middle", sx = SX, children }: any) {
  return (
    <text
      transform={`translate(${x},${y}) scale(${sx},1)`}
      dy="0.35em"
      fontSize={size}
      fontFamily={FONT}
      textAnchor={anchor}
      fill="#111"
    >
      {children}
    </text>
  );
}

function Panel({ p }: any) {
  const left = LEFTS[p.col];
  const w = WIDTHS[p.col];
  const top = TOPS[p.row];
  const h = HEIGHT;
  const x = d3.scaleLinear().domain(p.domain).range([left, left + w]);
  const y = d3.scaleLinear().domain([-0.8, 0.4]).range([top + h, top]);
  const line = d3
    .line<Pt>()
    .x((d) => x(d[0]))
    .y((d) => y(d[1]))
    .curve(d3.curveMonotoneX);

  return (
    <g>
      {/* panel letter */}
      <text x={TITLE_X[p.col] - 26} y={top + 9} fontSize={36} fontFamily={FONT} fill="#111">
        {p.id}
      </text>

      {/* zero line */}
      <line x1={left} x2={left + w} y1={y(0)} y2={y(0)} stroke="#000" strokeWidth={2.5} />

      {/* spectra */}
      {p.series.map((s: Pt[], i: number) => (
        <path key={i} d={line(s) || ""} fill="none" stroke={COLORS[i]} strokeWidth={2.2} strokeLinejoin="round" />
      ))}

      {/* frame */}
      <rect x={left} y={top} width={w} height={h} fill="none" stroke="#000" strokeWidth={2.5} />

      {/* y ticks */}
      {Y_TICKS.map((v) => (
        <g key={v}>
          <line x1={left} x2={left + 8} y1={y(v)} y2={y(v)} stroke="#000" strokeWidth={2} />
          <line x1={left + w} x2={left + w - 7} y1={y(v)} y2={y(v)} stroke="#000" strokeWidth={2} />
        </g>
      ))}
      {Y_LABELS.map((v) => (
        <Label key={v} x={left - 14} y={y(v)} anchor="end">
          {v.toFixed(1)}
        </Label>
      ))}

      {/* x ticks */}
      {p.ticks.map((v: number) => {
        const major = v % 50 === 0;
        const len = major ? 12 : 7;
        return (
          <g key={v}>
            <line x1={x(v)} x2={x(v)} y1={top + h} y2={top + h - len} stroke="#000" strokeWidth={2} />
            <line x1={x(v)} x2={x(v)} y1={top} y2={top + len} stroke="#000" strokeWidth={2} />
            {major && (
              <Label x={x(v)} y={top + h + 32}>
                {v}
              </Label>
            )}
          </g>
        );
      })}

      {/* axis titles */}
      <text
        x={left + w / 2 - 11}
        y={top + h + 102}
        fontSize={33}
        fontFamily={FONT}
        textAnchor="middle"
        fill="#111"
      >
        Wavenumber, cm
        <tspan fontSize={19} dy={-13}>
          -1
        </tspan>
      </text>
      <text
        transform={`translate(${TITLE_X[p.col]},${top + 230}) rotate(-90)`}
        fontSize={34}
        fontFamily={FONT}
        textAnchor="middle"
        fill="#111"
      >
        ΔAbsorbance, mOD
      </text>

      {/* peak annotations */}
      {p.notes.map((n: Note, i: number) => (
        <g key={i}>
          <line
            x1={x(n[1])}
            x2={x(n[1])}
            y1={y(n[2])}
            y2={y(n[3])}
            stroke="#000"
            strokeWidth={2}
            markerEnd="url(#peakArrow)"
          />
          <Label x={x(n[4])} y={y(n[5])}>
            {n[0]}
          </Label>
        </g>
      ))}

      {/* sample tag */}
      <Label x={left + w - 15} y={top + 490} anchor="end" size={30} sx={1.05}>
        {p.tag}
      </Label>

      {/* legend of delay times */}
      {!p.rates &&
        TIME_LABELS.map((t, i) => (
          <g key={t}>
            <line
              x1={left + 14 + p.legendShift}
              x2={left + 79 + p.legendShift}
              y1={top + 346 + i * 36}
              y2={top + 346 + i * 36}
              stroke={COLORS[i]}
              strokeWidth={2.5}
            />
            <Label x={left + 99 + p.legendShift} y={top + 346 + i * 36} anchor="start">
              {t}
            </Label>
          </g>
        ))}

      {/* kinetic scheme */}
      {p.rates &&
        SPECIES.map((s, i) => (
          <g key={s}>
            <line
              x1={left + SCHEME_X[i]}
              x2={left + SCHEME_X[i] + SCHEME_LEN}
              y1={top + SCHEME_Y[i]}
              y2={top + SCHEME_Y[i]}
              stroke={COLORS[i]}
              strokeWidth={2.5}
            />
            <Label x={left + SCHEME_X[i] + SCHEME_LEN + 6} y={top + SCHEME_Y[i]} anchor="start" size={19}>
              {s}
            </Label>
            {i < SPECIES.length - 1 && (
              <g>
                <line
                  x1={left + SCHEME_X[i] + 32}
                  y1={top + SCHEME_Y[i] + 4}
                  x2={left + SCHEME_X[i + 1] + 37}
                  y2={top + SCHEME_Y[i + 1] - 5}
                  stroke="#333"
                  strokeWidth={1}
                  markerEnd="url(#schemeArrow)"
                />
                <Label
                  x={left + SCHEME_X[i + 1] + 35}
                  y={top + (SCHEME_Y[i] + SCHEME_Y[i + 1]) / 2 - 3}
                  anchor="end"
                  size={19}
                >
                  {p.rates[i]}
                </Label>
              </g>
            )}
          </g>
        ))}
    </g>
  );
}

export default function App() {
  return (
    <svg
      width={1800}
      height={2044}
      style={{ position: "absolute", left: 0, top: 0, background: "#fff" }}
    >
      <defs>
        <marker
          id="peakArrow"
          viewBox="0 0 10 10"
          refX="10"
          refY="5"
          markerWidth="10"
          markerHeight="8"
          markerUnits="userSpaceOnUse"
          orient="auto"
        >
          <path d="M0,0 L10,5 L0,10 z" fill="#000" />
        </marker>
        <marker
          id="schemeArrow"
          viewBox="0 0 10 10"
          refX="10"
          refY="5"
          markerWidth="7"
          markerHeight="6"
          markerUnits="userSpaceOnUse"
          orient="auto"
        >
          <path d="M0,0 L10,5 L0,10 z" fill="#333" />
        </marker>
      </defs>
      <rect x={0} y={0} width={1800} height={2044} fill="#fff" />
      {panels.map((p) => (
        <Panel key={p.id} p={p} />
      ))}
    </svg>
  );
}
